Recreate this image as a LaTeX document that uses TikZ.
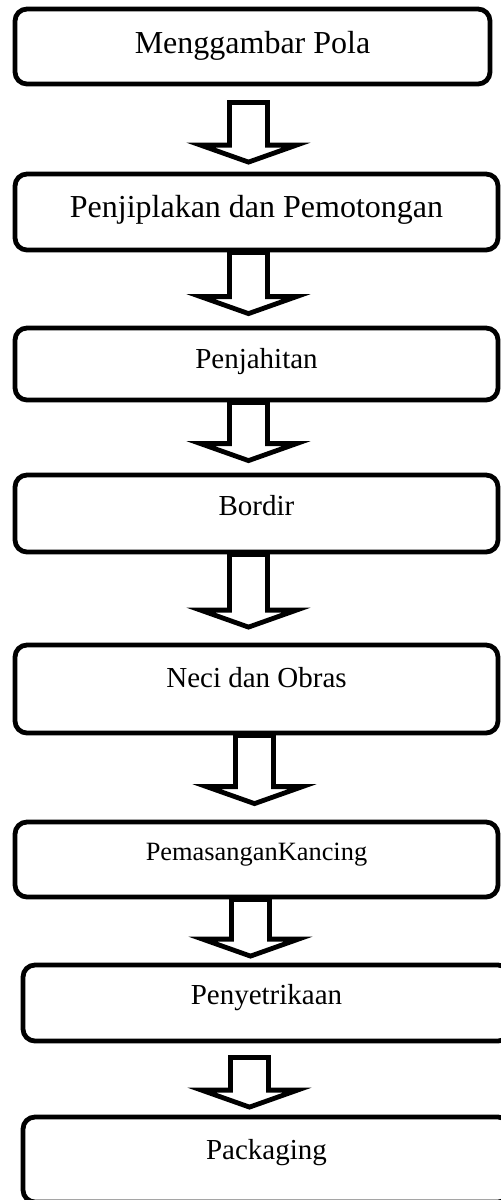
\documentclass[tikz,border=0pt]{standalone}
\usepackage{fontspec}
\setmainfont{Liberation Serif}
\usetikzlibrary{calc}

\begin{document}
\begin{tikzpicture}[
    x=0.5pt, y=-0.5pt,
    stage/.style={rectangle, draw, line width=2.4pt, rounded corners=6pt, inner sep=0pt, minimum width=241.5pt, align=center, text height=9.6pt, font=\fontsize{14.5}{17}\selectfont},
    lift/.style={text depth=#1},
    big/.style={text height=10.6pt, font=\fontsize{16}{19}\selectfont},
    small/.style={text height=8.7pt, font=\fontsize{13.2}{16}\selectfont},
    flow/.style={line width=2.4pt, line join=miter, miter limit=20,
        to path={let \p1=(\tikztostart), \p2=(\tikztotarget) in
            (\x1-9.5pt,\y1) -- (\x1-9.5pt,\y2+8.5pt) -- (\x1-24pt,\y2+8.5pt) -- (\x1,\y2)
            -- (\x1+24pt,\y2+8.5pt) -- (\x1+9.5pt,\y2+8.5pt) -- (\x1+9.5pt,\y1) -- cycle}}
]
\useasboundingbox (0,0) rectangle (500,1200);

\node[stage, big, minimum width=237.5pt, minimum height=37.5pt, lift=3.5pt] (pola) at (252.5,46.5) {Menggambar Pola};
\node[stage, big, minimum height=38pt, lift=5pt] (jiplak) at (256.5,212) {Penjiplakan dan Pemotongan};
\node[stage, minimum height=36pt, lift=5pt] (jahit) at (256.5,364) {Penjahitan};
\node[stage, minimum height=38.5pt, lift=7.5pt] (bordir) at (256.5,513.5) {Bordir};
\node[stage, minimum height=44pt, lift=11pt] (obras) at (256.5,689) {Neci dan Obras};
\node[stage, small, minimum height=37.5pt, lift=7.5pt] (kancing) at (256.5,859.5) {PemasanganKancing};
\node[stage, minimum width=243.5pt, minimum height=38pt, lift=8pt] (setrika) at (266.5,1003) {Penyetrikaan};
\node[stage, minimum width=243.5pt, minimum height=42.5pt, lift=10pt] (kemas) at (266.5,1159.5) {Packaging};

\coordinate (axis) at (248.5,0);

\draw[flow] ($(pola.south -| axis)+(0,-8pt)$) to ($(jiplak.north -| axis)+(0,4.75pt)$);
\draw[flow] (jiplak.south -| axis) to ($(jahit.north -| axis)+(0,6pt)$);
\draw[flow] (jahit.south -| axis) to ($(bordir.north -| axis)+(0,6pt)$);
\draw[flow] (bordir.south -| axis) to ($(obras.north -| axis)+(0,7.75pt)$);
\draw[flow] ($(obras.south -| axis)+(3pt,0)$) to ($(kancing.north -| axis)+(3pt,8pt)$);
\draw[flow] ($(kancing.south -| axis)+(1pt,0)$) to ($(setrika.north -| axis)+(1pt,3.25pt)$);
\draw[flow] ($(setrika.south -| axis)+(0.5pt,-7pt)$) to ($(kemas.north -| axis)+(0.5pt,3.75pt)$);
\end{tikzpicture}
\end{document}
